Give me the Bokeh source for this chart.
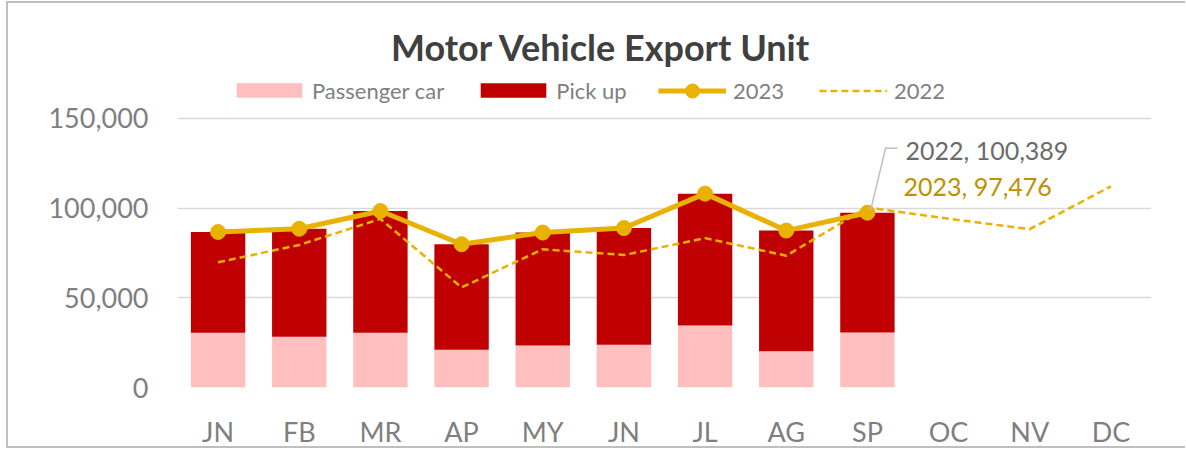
import numpy as np
from bokeh.plotting import figure
from bokeh.models import (Range1d, FixedTicker, NumeralTickFormatter, Legend, LegendItem,
                          Label, ColumnDataSource)
from bokeh.embed import file_html
from bokeh.resources import INLINE

# ---------------- data ----------------
months = ["JN", "FB", "MR", "AP", "MY", "JN", "JL", "AG", "SP", "OC", "NV", "DC"]
passenger = [30500, 28300, 30500, 21000, 23400, 23800, 34600, 20200, 30700]
pickup = [56200, 60200, 67900, 58900, 63000, 65100, 73500, 67300, 66776]
y2023 = [86700, 88500, 98400, 79900, 86400, 88900, 108100, 87500, 97476]
y2022 = [69800, 79500, 94000, 55800, 77100, 73900, 83300, 73500, 100389, 94100, 88300, 112200]
y_ticks = [0, 50000, 100000, 150000]

PINK = "#FFBFBF"
RED = "#C00000"
GOLD = "#E9B100"
TXT = "#7F7F7F"
FONT = "Lato"

xs_all = list(range(1, len(months) + 1))
xs_23 = xs_all[:len(y2023)]

# page geometry (screen pixels)
OFF_X, OFF_Y = 9, 5            # canvas origin inside the bordered box
W, H = 1186 - OFF_X, 450 - OFF_Y - 2
FRAME_L, FRAME_R = 178, 1150.5   # screen x of plot area
FRAME_B = 387                    # screen y of value 0
Y150 = 119.4                     # screen y of value 150,000
FRAME_T = OFF_Y                  # plot area extends to top of canvas
y_top = 150000 * (FRAME_B - FRAME_T) / (FRAME_B - Y150)

p = figure(width=W, height=H, x_range=Range1d(0.5, len(months) + 0.5),
           y_range=Range1d(0, y_top), output_backend="svg", toolbar_location=None,
           min_border_left=int(round(FRAME_L - OFF_X)),
           min_border_right=int(round(OFF_X + W - FRAME_R)),
           min_border_top=0, min_border_bottom=int(round(OFF_Y + H - FRAME_B)),
           title=None)
p.outline_line_color = None
p.background_fill_color = "white"
p.border_fill_color = "white"
p.margin = (1, 0, 0, 6)
p.styles = {"box-sizing": "content-box",
            "border-left": "2px solid #BFBFBF", "border-top": "2px solid #BFBFBF",
            "border-bottom": "2px solid #BFBFBF", "border-right": "0px none white",
            "outline": "none"}

def px2x(px):
    return 0.5 + (px - FRAME_L) * len(months) / (FRAME_R - FRAME_L)
def py2y(py):
    return (FRAME_B - py) * 150000 / (FRAME_B - Y150)

# axes
p.xgrid.visible = False
p.ygrid.grid_line_color = "#D9D9D9"
p.ygrid.grid_line_width = 1.5
p.yaxis.ticker = FixedTicker(ticks=y_ticks)
p.ygrid.ticker = FixedTicker(ticks=y_ticks)
p.yaxis.formatter = NumeralTickFormatter(format="0,0")
p.xaxis.ticker = FixedTicker(ticks=xs_all)
p.xaxis.major_label_overrides = {x: m for x, m in zip(xs_all, months)}
for ax in (p.xaxis, p.yaxis):
    ax.axis_line_color = None
    ax.major_tick_line_color = None
    ax.minor_tick_line_color = None
    ax.major_tick_in = 0
    ax.major_tick_out = 0
    ax.major_label_text_font = FONT
    ax.major_label_text_color = TXT
    ax.major_label_text_font_size = "27px"
p.yaxis.major_label_standoff = 29
p.xaxis.major_label_standoff = 27

# stacked bars
src = ColumnDataSource(dict(x=xs_23, passenger=passenger, pickup=pickup))
bars = p.vbar_stack(["passenger", "pickup"], x="x", width=0.67, color=[PINK, RED],
                    line_color=None, source=src)

# lines
r22 = p.line(xs_all, y2022, line_color=GOLD, line_width=2.5, line_dash="7 4")
r23 = p.line(xs_23, y2023, line_color=GOLD, line_width=5)
s23 = p.scatter(xs_23, y2023, size=15, color=GOLD)

# data labels for September
sp = len(y2023) - 1
lead_x = [xs_23[sp] + 0.04, px2x(885), px2x(897)]
lead_y = [y2022[sp] - 1500, py2y(149), py2y(149)]
p.line(lead_x, lead_y, line_color="#BFBFBF", line_width=1.5)
p.add_layout(Label(x=px2x(905), y=py2y(151), text=f"2022, {y2022[sp]:,}",
                   text_font=FONT, text_font_size="25px", text_color="#6B6B6B",
                   text_baseline="middle", text_align="left"))
p.add_layout(Label(x=px2x(903), y=py2y(187), text=f"2023, {y2023[sp]:,}",
                   text_font=FONT, text_font_size="25px", text_color="#BF9000",
                   text_baseline="middle", text_align="left"))

# title
p.add_layout(Label(x=px2x(601), y=py2y(48), text="Motor Vehicle Export Unit",
                   text_font=FONT, text_font_size="36px", text_font_style="bold",
                   text_color="#404040", text_align="center", text_baseline="middle"))

# legends (bars and lines use different glyph sizes)
LEG_H = 35
LEG_CY = 90
common = dict(orientation="horizontal", padding=0, margin=0, border_line_color=None,
              background_fill_alpha=0, label_text_font=FONT, label_text_font_size="22px",
              label_text_color=TXT, label_height=LEG_H)
leg_bars = Legend(items=[LegendItem(label="Passenger car", renderers=[bars[0]]),
                         LegendItem(label="Pick up", renderers=[bars[1]])],
                  location=(229 - FRAME_L, FRAME_B - LEG_CY - LEG_H / 2),
                  glyph_width=82, glyph_height=18, label_standoff=2, spacing=28, **common)
leg_lines = Legend(items=[LegendItem(label="2023", renderers=[r23, s23]),
                          LegendItem(label="2022", renderers=[r22])],
                   location=(659 - FRAME_L, FRAME_B - LEG_CY - LEG_H / 2),
                   glyph_width=68, glyph_height=LEG_H, label_standoff=7, spacing=35, **common)
p.add_layout(leg_bars)
p.add_layout(leg_lines)

open("out.html", "w").write(file_html(p, INLINE))
